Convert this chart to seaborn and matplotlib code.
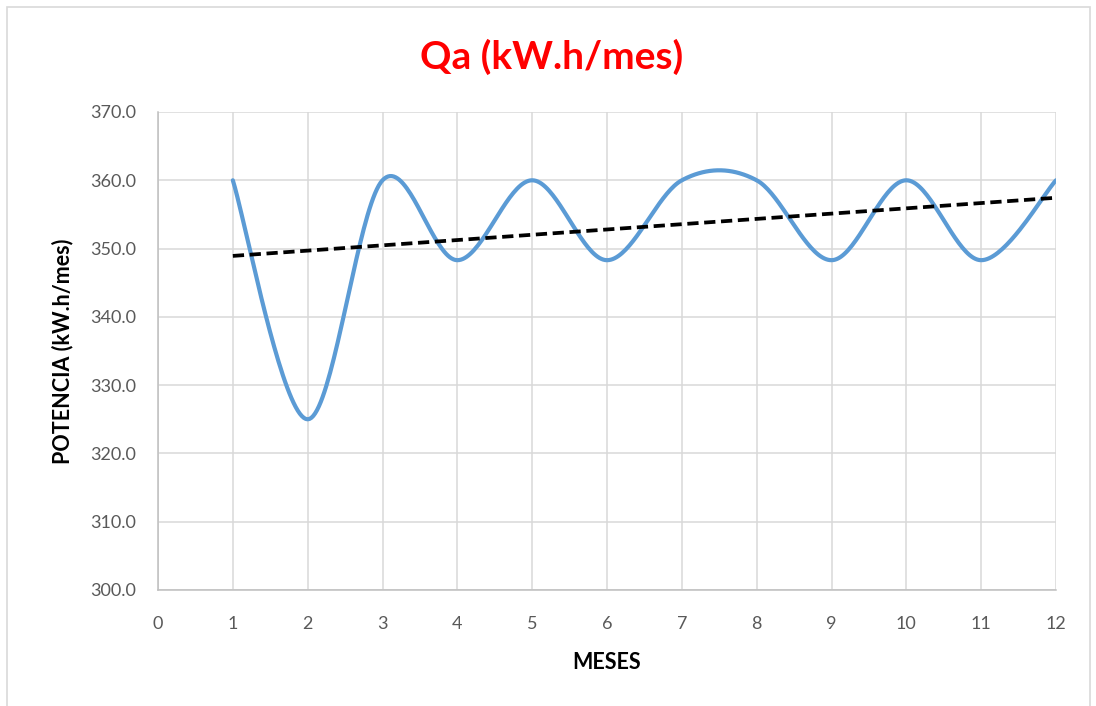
import numpy as np
import pandas as pd
import matplotlib
matplotlib.use("Agg")
import matplotlib.pyplot as plt
from matplotlib.patches import Rectangle
import seaborn as sns

# ---- data ----
months = [1, 2, 3, 4, 5, 6, 7, 8, 9, 10, 11, 12]
qa = [360.0, 325.0, 360.0, 348.3, 360.0, 348.3, 360.0, 360.0, 348.3, 360.0, 348.3, 360.0]
y_ticks = [300, 310, 320, 330, 340, 350, 360, 370]
x_ticks = [0, 1, 2, 3, 4, 5, 6, 7, 8, 9, 10, 11, 12]
title = "Qa (kW.h/mes)"
xlabel = "MESES"
ylabel = "POTENCIA (kW.h/mes)"


def excel_smooth(x, y, n=40):
    x = np.asarray(x, float)
    y = np.asarray(y, float)
    P = np.column_stack([x, y])
    Pe = np.vstack([P[0], P, P[-1]])
    out = []
    for i in range(len(P) - 1):
        p0, p1, p2, p3 = Pe[i], Pe[i + 1], Pe[i + 2], Pe[i + 3]
        c1 = p1 + (p2 - p0) / 6.0
        c2 = p2 - (p3 - p1) / 6.0
        t = np.linspace(0, 1, n, endpoint=(i == len(P) - 2))[:, None]
        b = (1 - t) ** 3 * p1 + 3 * (1 - t) ** 2 * t * c1 + 3 * (1 - t) * t ** 2 * c2 + t ** 3 * p2
        out.append(b)
    out = np.vstack(out)
    return out[:, 0], out[:, 1]


sx, sy = excel_smooth(months, qa)
smooth_df = pd.DataFrame({"x": sx, "y": sy})
coef = np.polyfit(months, qa, 1)
trend_df = pd.DataFrame({"x": months, "y": np.polyval(coef, months)})

sns.set_theme(style="white")
plt.rcParams["font.family"] = ["Lato", "DejaVu Sans"]

W, H = 1096, 706
fig = plt.figure(figsize=(W / 100, H / 100), dpi=100)
fig.patch.set_facecolor("white")
fig.patches.append(Rectangle((7 / W, -0.02), (1090 - 7) / W, 1.02 - 7 / H,
                             transform=fig.transFigure, fill=False,
                             edgecolor="#D9D9D9", linewidth=1.2))

ax = fig.add_axes([158 / W, 1 - 590 / H, (1056 - 158) / W, (590 - 112) / H])

sns.lineplot(data=smooth_df, x="x", y="y", ax=ax, color="#5B9BD5", linewidth=3.0,
             sort=False, estimator=None)
sns.lineplot(data=trend_df, x="x", y="y", ax=ax, color="black", linewidth=2.7,
             linestyle=(0, (3.0, 1.5)), estimator=None)

ax.set_xlim(0, 12)
ax.set_ylim(300, 370)
ax.set_xticks(x_ticks)
ax.set_yticks(y_ticks)
ax.set_xticklabels([str(v) for v in x_ticks])
ax.set_yticklabels([f"{v:.1f}" for v in y_ticks])
ax.grid(True, color="#D9D9D9", linewidth=1.1)
ax.set_axisbelow(True)
for s in ["top", "right"]:
    ax.spines[s].set_visible(False)
for s in ["left", "bottom"]:
    ax.spines[s].set_color("#BFBFBF")
    ax.spines[s].set_linewidth(1.1)
ax.tick_params(axis="both", length=0, labelsize=13, labelcolor="#595959")
ax.tick_params(axis="x", pad=19)
ax.tick_params(axis="y", pad=16)

ax.set_xlabel(xlabel, fontsize=15.5, fontweight="bold", color="black", labelpad=14)
ax.set_ylabel(ylabel, fontsize=15.5, fontweight="bold", color="black", labelpad=12)
fig.text(552 / W, 1 - 57 / H, title, ha="center", va="center", fontsize=28,
         fontweight="bold", color="#FF0000")

fig.savefig("out.png", dpi=100)
